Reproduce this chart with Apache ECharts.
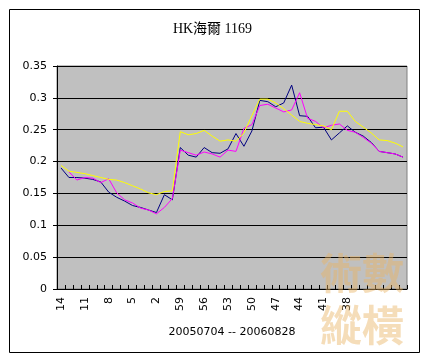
<!DOCTYPE html>
<html>
<head>
<meta charset="utf-8">
<script src="https://cdn.jsdelivr.net/npm/echarts@6/dist/echarts.min.js"></script>
<style>
html,body{margin:0;padding:0;background:#fff;}
#c{width:425px;height:358px;}
</style>
</head>
<body>
<div id="c"></div>
<script>
const titleText = 'HK海爾 1169';
const xName = '20050704 -- 20060828';
const categories = ['14','13','12','11','10','9','8','7','6','5','4','3','2','1',
  '60','59','58','57','56','55','54','53','52','51','50','49','48','47','46','45',
  '44','43','42','41','40','39','38','','','','','','',''];
const yTicks = [0, 0.05, 0.1, 0.15, 0.2, 0.25, 0.3, 0.35];
const priceBlue = [0.19,0.175,0.175,0.174,0.172,0.168,0.152,0.144,0.138,0.131,0.128,0.124,0.12,0.148,0.14,
  0.222,0.21,0.207,0.222,0.214,0.213,0.22,0.244,0.224,0.248,0.296,0.294,0.286,0.292,0.32,
  0.272,0.271,0.253,0.254,0.234,0.245,0.256,0.246,0.24,0.23,0.216,0.214,0.212,0.207];
const lineMagenta = [null,0.184,0.171,0.175,0.174,0.167,0.173,0.151,0.14,0.135,0.127,0.124,0.118,0.128,0.142,
  0.218,0.214,0.21,0.215,0.212,0.207,0.218,0.216,0.252,0.258,0.288,0.29,0.284,0.278,0.281,
  0.308,0.268,0.263,0.253,0.257,0.259,0.249,0.246,0.238,0.229,0.216,0.214,0.212,0.207];
const lineYellow = [0.194,0.185,0.183,0.181,0.178,0.175,0.172,0.171,0.167,0.162,0.157,0.151,0.148,0.153,0.154,
  0.247,0.242,0.244,0.249,0.24,0.232,0.234,0.232,0.245,0.272,0.298,0.298,0.292,0.283,0.273,
  0.263,0.26,0.258,0.256,0.25,0.279,0.279,0.263,0.254,0.245,0.234,0.233,0.229,0.223];

const chart = echarts.init(document.getElementById('c'), null, {renderer:'canvas'});
const mk = (data, color) => ({
  type:'line', data:data, symbol:'none', smooth:false, connectNulls:false,
  lineStyle:{color:color, width:1}, itemStyle:{color:color}, animation:false
});
chart.setOption({
  backgroundColor:'#ffffff',
  animation:false,
  title:{text:titleText, left:'center', top:17,
    textStyle:{fontFamily:'Liberation Serif, "Noto Sans CJK TC", serif', fontSize:14, fontWeight:'normal', color:'#000'}},
  grid:{left:57, right:18, top:66, bottom:69, show:true, backgroundColor:'#c0c0c0', borderColor:'#808080', borderWidth:1},
  xAxis:{type:'category', data:categories, boundaryGap:true,
    name:xName, nameLocation:'middle', nameGap:38,
    nameTextStyle:{fontFamily:'DejaVu Sans, sans-serif', fontSize:11, color:'#000'},
    axisLine:{lineStyle:{color:'#000', width:1}},
    axisTick:{show:true, inside:true, length:4, interval:0, lineStyle:{color:'#000'}},
    axisLabel:{interval:2, rotate:90, margin:8, fontFamily:'DejaVu Sans, sans-serif', fontSize:11, color:'#000'},
    splitLine:{show:false}},
  yAxis:{type:'value', min:0, max:0.35, interval:0.05,
    axisLine:{show:true, lineStyle:{color:'#000', width:1}},
    axisTick:{show:true, length:4, lineStyle:{color:'#000'}},
    axisLabel:{margin:10, fontFamily:'DejaVu Sans, sans-serif', fontSize:11, color:'#000',
      formatter:v => { const t = yTicks.find(x => Math.abs(x - v) < 1e-9); return String(t === undefined ? v : t); }},
    splitLine:{show:true, lineStyle:{color:'#000', width:1}}},
  series:[mk(priceBlue,'#000080'), mk(lineMagenta,'#ff00ff'), mk(lineYellow,'#ffff00')],
  graphic:[
    {type:'rect', left:7, top:7, shape:{width:410, height:343}, style:{fill:'none', stroke:'#000', lineWidth:1}, silent:true, z:-1},
    {type:'text', left:320, top:252, z:10, silent:true, style:{text:'術數', fontFamily:'"Noto Sans CJK TC", sans-serif', fontSize:42, fontWeight:'bold', fill:'rgba(232,180,100,0.45)'}},
    {type:'text', left:320, top:304, z:10, silent:true, style:{text:'縱橫', fontFamily:'"Noto Sans CJK TC", sans-serif', fontSize:42, fontWeight:'bold', fill:'rgba(232,180,100,0.45)'}}
  ]
});
</script>
</body>
</html>
